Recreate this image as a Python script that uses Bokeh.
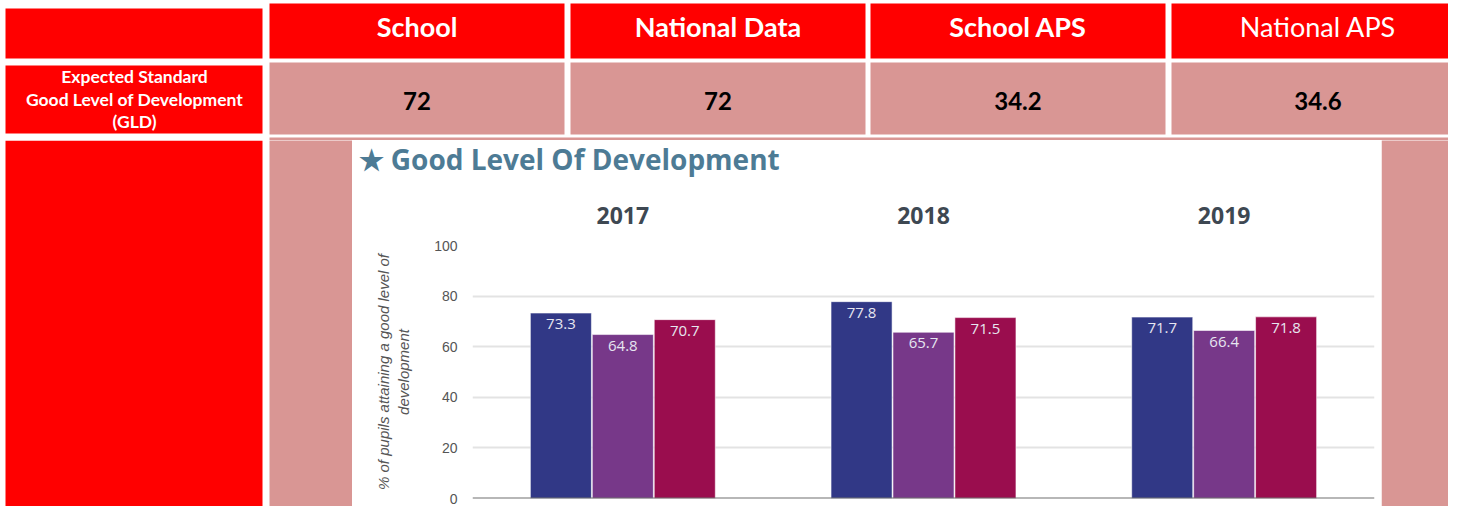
from bokeh.plotting import figure
from bokeh.layouts import column, row
from bokeh.models import Range1d, FactorRange, ColumnDataSource, Span, FixedTicker
from bokeh.transform import dodge
from bokeh.core.properties import value
from bokeh.embed import file_html
from bokeh.resources import INLINE

# ---------------- data ----------------
header_labels = ["School", "National Data", "School APS", "National APS"]
header_weights = ["bold", "bold", "bold", "normal"]
row_label_lines = ["Expected Standard", "Good Level of Development", "(GLD)"]
row_values = ["72", "72", "34.2", "34.6"]

chart_title = "\u2605 Good Level Of Development"
years = ["2017", "2018", "2019"]
series_1 = [73.3, 77.8, 71.7]
series_2 = [64.8, 65.7, 66.4]
series_3 = [70.7, 71.5, 71.8]
y_ticks = [0, 20, 40, 60, 80, 100]
y_label = "% of pupils attaining a good level of\ndevelopment"

# ---------------- style ----------------
RED = "#ff0000"
PINK = "#d99694"
BAR_COLORS = ["#313886", "#773889", "#9a0d4e"]
TABLE_FONT = "Lato"

# table geometry (page pixels)
col_left = [269, 570, 870, 1171]
col_right = [564, 865, 1165, 1464]
col_center = [(a + b) / 2 for a, b in zip(col_left, col_right)]


def blank(width, height, x0, x1, y0, y1):
    f = figure(width=width, height=height, x_range=Range1d(x0, x1), y_range=Range1d(y1, y0),
               x_axis_type=None, y_axis_type=None, toolbar_location=None, output_backend="svg",
               min_border=0, outline_line_color=None, frame_align=False,
               background_fill_color="white", border_fill_color="white")
    return f


# ---------------- table top (rows 1-2) ----------------
top = blank(1448, 140, 0, 1448, 0, 140)
top.quad(left=[5], right=[262], top=[8], bottom=[58], fill_color=RED, line_color=None)
top.quad(left=col_left, right=col_right, top=[3] * 4, bottom=[58] * 4, fill_color=RED, line_color=None)
top.quad(left=[5], right=[262], top=[65], bottom=[133], fill_color=RED, line_color=None)
top.quad(left=col_left, right=col_right, top=[62] * 4, bottom=[134] * 4, fill_color=PINK, line_color=None)
top.quad(left=[269], right=[1464], top=[137], bottom=[141], fill_color=PINK, line_color=None)

top.text(x=col_center, y=[26] * 4, text=header_labels, text_font=value(TABLE_FONT),
         text_font_style=header_weights, text_font_size="27px", text_color="white",
         text_align="center", text_baseline="middle")
top.text(x=col_center, y=[100] * 4, text=row_values, text_font=value(TABLE_FONT),
         text_font_style="bold", text_font_size="24px", text_color="black",
         text_align="center", text_baseline="middle")
top.text(x=[134] * 3, y=[76, 99, 121], text=row_label_lines, text_font=value(TABLE_FONT),
         text_font_style="bold", text_font_size="17.5px", text_color="white",
         text_align="center", text_baseline="middle")

# ---------------- side panels of chart row ----------------
left = blank(352, 366, 0, 352, 140, 506)
left.quad(left=[5], right=[262], top=[140], bottom=[522], fill_color=RED, line_color=None)
left.quad(left=[269], right=[352], top=[137], bottom=[522], fill_color=PINK, line_color=None)

right = blank(67, 366, 1381, 1448, 140, 506)
right.quad(left=[1381], right=[1464], top=[137], bottom=[522], fill_color=PINK, line_color=None)

# ---------------- chart title strip ----------------
head = blank(1029, 40, 352, 1381, 140, 180)
head.text(x=[358], y=[158], text=[chart_title], text_font=value("Open Sans"),
          text_font_style="bold", text_font_size="28px", text_color="#4d7b95",
          text_align="left", text_baseline="middle")

# ---------------- chart ----------------
src = ColumnDataSource(dict(
    year=years, s1=series_1, s2=series_2, s3=series_3,
    t1=[str(v) for v in series_1], t2=[str(v) for v in series_2], t3=[str(v) for v in series_3],
))

p = figure(width=1029, height=326, x_range=FactorRange(*years), y_range=Range1d(0, 100),
           x_axis_location="above", toolbar_location=None, output_backend="svg",
           min_border_left=120, min_border_right=7, min_border_top=65, min_border_bottom=8,
           outline_line_color=None, background_fill_color="white", border_fill_color="white",
           frame_align=False)

ticker = FixedTicker(ticks=y_ticks)
p.yaxis.ticker = ticker
p.ygrid.ticker = ticker
p.ygrid.grid_line_color = "#e3e3e3"
p.ygrid.grid_line_width = 2
p.xgrid.grid_line_color = None

p.yaxis.axis_line_color = None
p.yaxis.major_tick_line_color = None
p.yaxis.minor_tick_line_color = None
p.yaxis.major_label_standoff = 9
p.yaxis.major_label_text_font = "Liberation Sans"
p.yaxis.major_label_text_font_size = "14px"
p.yaxis.major_label_text_color = "#555555"
p.yaxis.axis_label = y_label
p.yaxis.axis_label_text_font = "Liberation Sans"
p.yaxis.axis_label_text_font_size = "15px"
p.yaxis.axis_label_text_font_style = "italic"
p.yaxis.axis_label_text_color = "#555555"
p.yaxis.axis_label_standoff = 19

p.xaxis.axis_line_color = None
p.xaxis.major_tick_line_color = None
p.xaxis.minor_tick_line_color = None
p.xaxis.major_label_text_font = "Open Sans"
p.xaxis.major_label_text_font_size = "23px"
p.xaxis.major_label_text_font_style = "bold"
p.xaxis.major_label_text_color = "#3e4852"
p.xaxis.major_label_standoff = 16

bar_width = 0.203
offsets = [-0.206, 0.0, 0.206]
for key, lbl, off, color in zip(["s1", "s2", "s3"], ["t1", "t2", "t3"], offsets, BAR_COLORS):
    xs = dodge("year", off, range=p.x_range)
    p.vbar(x=xs, top=key, bottom=0, width=bar_width, source=src,
           fill_color=color, line_color="white", line_alpha=0.55, line_width=1)
    p.text(x=xs, y=key, text=lbl, source=src, text_align="center", text_baseline="top",
           y_offset=6, text_font=value("Open Sans"), text_font_size="15px", text_color="#e6e6f0")

p.add_layout(Span(location=0, dimension="width", line_color="#707070", line_width=2))

layout = column(top, row(left, column(head, p), right))
open("out.html", "w").write(file_html(layout, INLINE))
